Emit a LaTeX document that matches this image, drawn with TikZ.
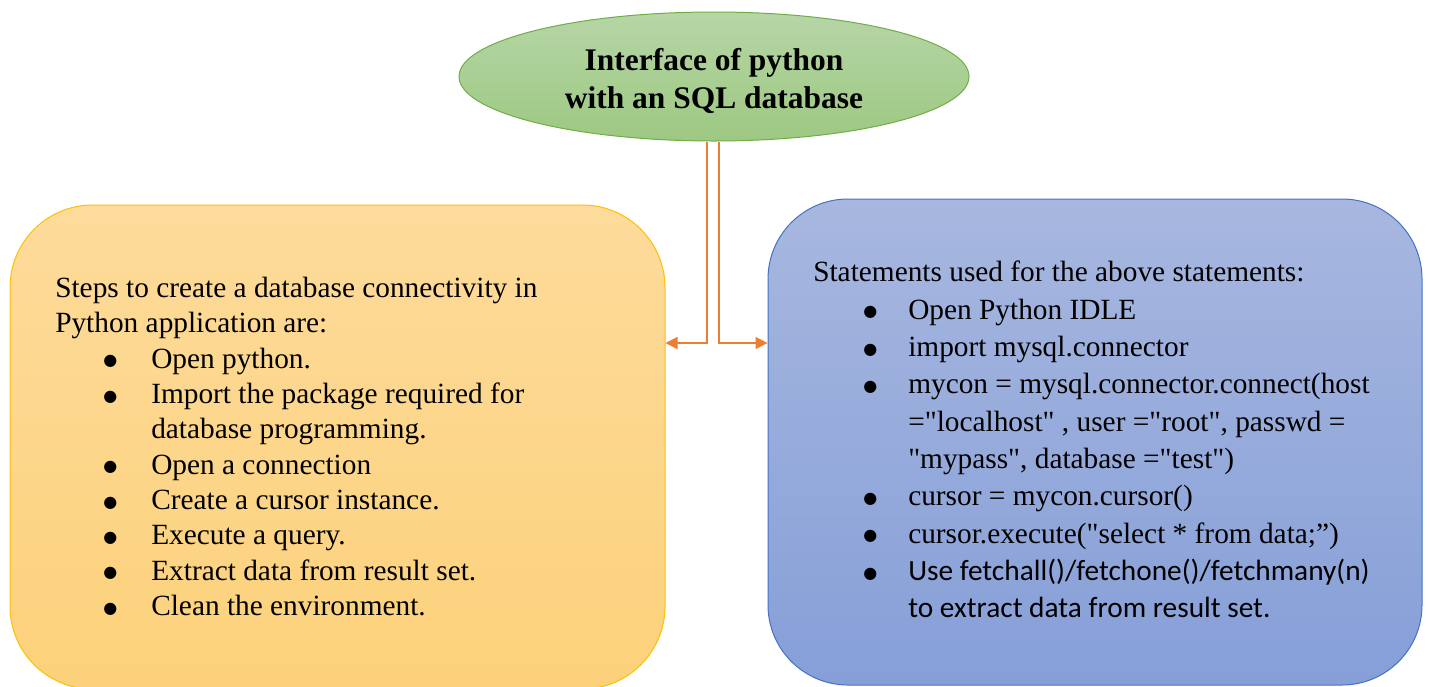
\documentclass[tikz,border=0pt]{standalone}
\usepackage{fontspec}
\setmainfont{Liberation Serif}
\newfontfamily\plainserif{Liberation Serif}
\newfontfamily\calibrifont{Carlito}
\newfontfamily\dotfont{DejaVu Sans}
\usepackage{xcolor}
\usetikzlibrary{shapes.geometric,arrows.meta}

\definecolor{titleline}{RGB}{112,173,71}
\definecolor{titletop}{RGB}{182,214,166}
\definecolor{titlebot}{RGB}{157,200,130}
\definecolor{stepline}{RGB}{255,192,0}
\definecolor{steptop}{RGB}{253,219,155}
\definecolor{stepbot}{RGB}{252,209,122}
\definecolor{stmtline}{RGB}{68,114,196}
\definecolor{stmttop}{RGB}{167,183,223}
\definecolor{stmtbot}{RGB}{134,159,216}
\definecolor{linkline}{RGB}{237,125,49}

\tikzset{
  titlenode/.style={ellipse, draw=titleline, line width=0.75pt, top color=titletop, bottom color=titlebot,
    inner sep=0pt, minimum width=382.5pt, minimum height=96.75pt},
  titletext/.style={inner sep=0pt, align=center, font=\fontsize{23.6}{28}\selectfont\bfseries},
  stepbox/.style={rectangle, rounded corners=62pt, draw=stepline, line width=0.75pt, top color=steptop, bottom color=stepbot,
    minimum width=491.25pt, minimum height=363pt},
  stmtbox/.style={rectangle, rounded corners=60pt, draw=stmtline, line width=0.75pt, top color=stmttop, bottom color=stmtbot,
    minimum width=490.5pt, minimum height=364.5pt},
  listtext/.style={anchor=north west, inner sep=0pt, align=left},
  conn/.style={draw=linkline, line width=1pt, -{Triangle[length=9pt,width=9pt]}}
}

\newcommand{\bigbul}{\raisebox{1.8pt}{\dotfont\fontsize{12}{12}\selectfont ●}}
\newcommand{\lbul}[1]{\hspace*{36pt}\makebox[36pt][l]{\bigbul}#1}
\newcommand{\lcont}[1]{\hspace*{72pt}#1}
\newcommand{\rbul}[1]{\hspace*{37.5pt}\makebox[33.75pt][l]{\bigbul}#1}
\newcommand{\rcont}[1]{\hspace*{71.25pt}#1}

\begin{document}
\begin{tikzpicture}[x=0.75pt,y=0.75pt,yscale=-1,xscale=1]
\clip (0,0) rectangle (1430,686);
%Shape: Rounded Rect [id:steps]
\node [stepbox] (leftbox) at (337.5,447) {};
%Shape: Rounded Rect [id:statements]
\node [stmtbox] (rightbox) at (1095,442) {};
%Shape: Ellipse [id:title]
\node [titlenode] (title) at (714,76.5) {};
% Text Node
\node [titletext] (titlelabel) at (714,81) {Interface of python\\with an SQL database};
\coordinate (split) at (713,343);
%Straight Lines [id:toleft]
\draw [conn] ([xshift=-5.25pt]title.south) |- (leftbox.east |- split);
%Straight Lines [id:toright]
\draw [conn] ([xshift=3.75pt]title.south) |- (rightbox.west |- split);
% Text Node
\node [listtext, font=\fontsize{22}{26.5}\selectfont] (lefttext) at (55,277) {%
Steps to create a database connectivity in\\
Python application are:\\
\lbul{Open python.}\\
\lbul{Import the package required for}\\
\lcont{database programming.}\\
\lbul{Open a connection}\\
\lbul{Create a cursor instance.}\\
\lbul{Execute a query.}\\
\lbul{Extract data from result set.}\\
\lbul{Clean the environment.}};
% Text Node
\node [listtext, font=\fontsize{22}{28}\selectfont\plainserif] (righttext) at (813,261) {%
Statements used for the above statements:\\
\rbul{Open Python IDLE}\\
\rbul{import mysql.connector}\\
\rbul{mycon = mysql.connector.connect(host}\\
\rcont{="localhost" , user ="root", passwd =}\\
\rcont{"mypass", database ="test")}\\
\rbul{cursor = mycon.cursor()}\\
\rbul{cursor.execute("select * from data;”)}\\
\rbul{{\calibrifont Use fetchall()/fetchone()/fetchmany(n)}}\\
\rcont{{\calibrifont to extract data from result set.}}};
\end{tikzpicture}
\end{document}
